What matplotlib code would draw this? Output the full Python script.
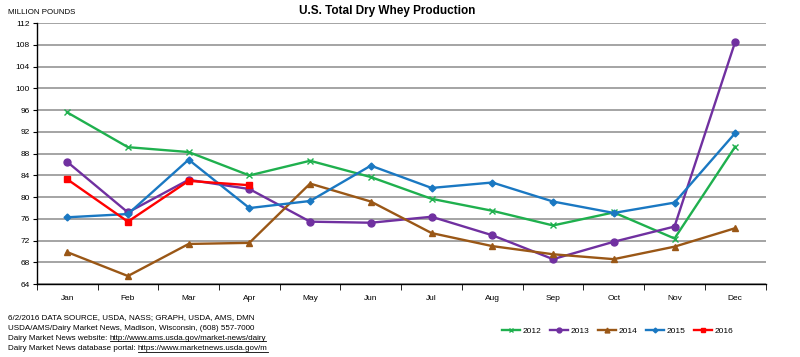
import numpy as np
import matplotlib
matplotlib.use("Agg")
import matplotlib.pyplot as plt
from matplotlib.ticker import FixedLocator

MONTHS = ["Jan", "Feb", "Mar", "Apr", "May", "Jun",
          "Jul", "Aug", "Sep", "Oct", "Nov", "Dec"]

Y2012 = [95.6, 89.2, 88.3, 84.0, 86.7, 83.7, 79.7, 77.5, 74.8, 77.2, 72.4, 89.3]
Y2013 = [86.5, 77.2, 83.2, 81.5, 75.5, 75.3, 76.4, 73.0, 68.6, 71.8, 74.6, 108.6]
Y2014 = [69.9, 65.5, 71.4, 71.6, 82.5, 79.2, 73.4, 71.0, 69.5, 68.6, 70.9, 74.3]
Y2015 = [76.3, 76.9, 86.9, 78.0, 79.3, 85.8, 81.7, 82.7, 79.2, 77.1, 79.0, 91.8]
Y2016 = [83.3, 75.5, 83.0, 82.2]

YTICKS = list(range(64, 113, 4))

FOOTER = [
    ("6/2/2016 DATA SOURCE, USDA, NASS; GRAPH, USDA, AMS, DMN", None),
    ("USDA/AMS/Dairy Market News, Madison, Wisconsin, (608) 557-7000", None),
    ("Dairy Market News website: ", "http://www.ams.usda.gov/market-news/dairy"),
    ("Dairy Market News database portal: ", "https://www.marketnews.usda.gov/m"),
]


def main():
    plt.rcParams["font.family"] = ["Liberation Sans", "DejaVu Sans"]
    fig = plt.figure(figsize=(8.0, 3.57), dpi=100)
    ax = fig.add_axes([0.046, 0.204, 0.911, 0.731])

    x = np.arange(len(MONTHS))
    series = [
        ("2012", Y2012, "#1fb04e", "x", 4),
        ("2013", Y2013, "#7030a0", "o", 5),
        ("2014", Y2014, "#9a5716", "^", 5),
        ("2015", Y2015, "#1a78c2", "D", 3.5),
        ("2016", Y2016, "#ff0000", "s", 5),
    ]
    for name, vals, col, mk, ms in series:
        ax.plot(x[:len(vals)], vals, color=col, marker=mk, markersize=ms,
                linewidth=1.7, label=name, zorder=3)

    ax.set_xlim(-0.5, len(MONTHS) - 0.5)
    ax.set_ylim(64, 112)
    ax.set_yticks(YTICKS)
    ax.yaxis.grid(True, color="#8c8c8c", linewidth=1.1)
    ax.set_axisbelow(True)
    ax.set_xticks(x)
    ax.set_xticklabels(MONTHS)
    ax.xaxis.set_minor_locator(FixedLocator(np.arange(-0.5, len(MONTHS), 1)))
    ax.tick_params(axis="x", which="major", length=0, pad=8, labelsize=6)
    ax.tick_params(axis="x", which="minor", length=4, direction="out")
    ax.tick_params(axis="y", length=3, labelsize=6, pad=2)
    for s in ("top", "right"):
        ax.spines[s].set_visible(False)
    ax.spines["left"].set_linewidth(1.0)
    ax.spines["bottom"].set_linewidth(1.0)

    fig.text(0.484, 0.97, "U.S. Total Dry Whey Production", ha="center",
             va="center", fontsize=8.5, fontweight="bold")
    fig.text(0.01, 0.965, "MILLION POUNDS", ha="left", va="center",
             fontsize=5.7)

    fig.legend(loc="center", bbox_to_anchor=(0.772, 0.073), ncol=5,
               frameon=False, fontsize=6, handlelength=2.2,
               handletextpad=0.3, columnspacing=1.0, markerscale=0.7)

    fig.canvas.draw()
    renderer = fig.canvas.get_renderer()
    y0 = 0.11
    for i, (txt, link) in enumerate(FOOTER):
        yy = y0 - i * 0.029
        t = fig.text(0.01, yy, txt, ha="left", va="center", fontsize=5.8)
        if link:
            bb = t.get_window_extent(renderer).transformed(fig.transFigure.inverted())
            lt = fig.text(bb.x1, yy, link, ha="left", va="center", fontsize=5.8)
            lb = lt.get_window_extent(renderer).transformed(fig.transFigure.inverted())
            fig.add_artist(plt.Line2D([lb.x0, lb.x1], [lb.y0 + 0.002, lb.y0 + 0.002],
                                      color="black", linewidth=0.6,
                                      transform=fig.transFigure))

    fig.savefig("out.png", dpi=100)


if __name__ == "__main__":
    main()
